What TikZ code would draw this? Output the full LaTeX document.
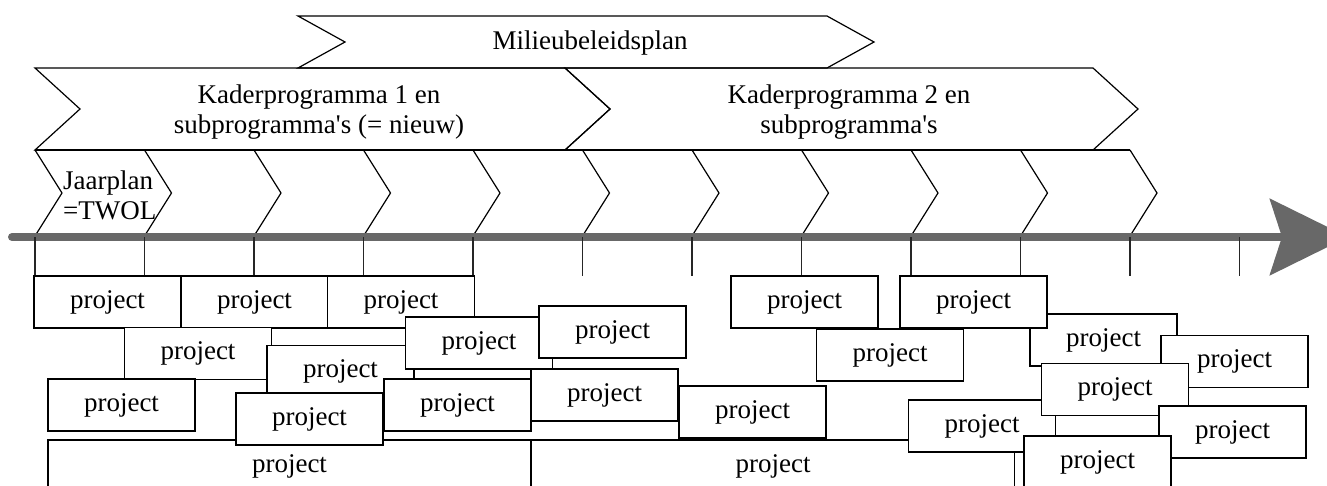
\documentclass[tikz,border=0pt]{standalone}
\usepackage{fontspec}
\setmainfont{Liberation Serif}
\usetikzlibrary{arrows.meta}
\definecolor{axisgray}{RGB}{104,104,104}
\tikzset{
    chevron/.style={draw=black, line width=1.2pt, line join=miter},
    tickline/.style={draw=black!85, line width=1.2pt},
    timeline/.style={draw=axisgray, line width=8pt, line cap=round,
        -{Stealth[length=78pt,width=76pt,inset=12pt]}},
    txt/.style={inner sep=0pt, align=center},
    proj/.style={draw=black, fill=white, line width=1.2pt, inner sep=0pt,
        minimum width=147pt, minimum height=52pt},
    wideproj/.style={proj, minimum width=483pt}
}

\begin{document}
\begin{tikzpicture}[x=1pt, y=-1pt, font=\fontsize{27}{30}\selectfont]
    \useasboundingbox (0,0) rectangle (1327,485);
    \clip (0,0) rectangle (1327,485);

    % plans
    \draw[chevron] (298,16) -- (827,16) -- (874,42) -- (827,68) -- (298,68) -- (345,42) -- cycle;
    \draw[chevron] (35,68) -- (565,68) -- (610,109) -- (565,150) -- (35,150) -- (80,109) -- cycle;
    \draw[chevron] (565,68) -- (1093,68) -- (1138,109) -- (1093,150) -- (565,150) -- (610,109) -- cycle;
    \node[txt] (milieu) at (590,43) {Milieubeleidsplan};
    \node[txt] (kader1) at (319,112) {Kaderprogramma 1 en\\subprogramma\textquotesingle s (= nieuw)};
    \node[txt] (kader2) at (849,112) {Kaderprogramma 2 en\\subprogramma\textquotesingle s};

    % year plans
    \draw[chevron] (35,150) -- (1130,150);
    \foreach \i in {0,...,10}
        \draw[chevron] ({35+109.5*\i},150) -- ++(27,43) -- ++(-27,43);
    \node[txt, align=left, anchor=west] (jaarplan) at (63,195) {Jaarplan\\=TWOL};

    % time axis
    \coordinate (tstart) at (12,237);
    \coordinate (tend) at (1348,237);
    \draw[timeline] (tstart) -- (tend);
    \foreach \i in {0,...,11}
        \draw[tickline] ({35+109.5*\i},237) -- ++(0,39);

    % projects
    \node[wideproj] (p10) at (289.5,466) {project};
    \node[wideproj] (p13) at (773,466) {project};
    \node[proj] (p1) at (107.5,302) {project};
    \node[proj] (p2) at (254.5,302) {project};
    \node[proj] (p3) at (401,302) {project};
    \node[proj] (p4) at (198,353.5) {project};
    \node[proj] (p5) at (340.5,371.5) {project};
    \node[proj] (p6) at (479,343) {project};
    \node[proj] (p7) at (309.5,419) {project};
    \node[proj] (p8) at (121.5,405) {project};
    \node[proj] (p9) at (457.5,405) {project};
    \node[proj] (p11) at (612.5,332) {project};
    \node[proj] (p12) at (604.5,395) {project};
    \node[proj] (p14) at (752.5,412) {project};
    \node[proj] (p15) at (804.5,302) {project};
    \node[proj] (p16) at (890,355) {project};
    \node[proj] (p18) at (1103.5,340) {project};
    \node[proj] (p17) at (973.5,302) {project};
    \node[proj] (p20) at (1234.5,361.5) {project};
    \node[proj] (p21) at (982,426) {project};
    \node[proj] (p19) at (1115,389.5) {project};
    \node[proj] (p22) at (1232.5,432) {project};
    \node[proj] (p23) at (1097.5,462) {project};
\end{tikzpicture}
\end{document}
